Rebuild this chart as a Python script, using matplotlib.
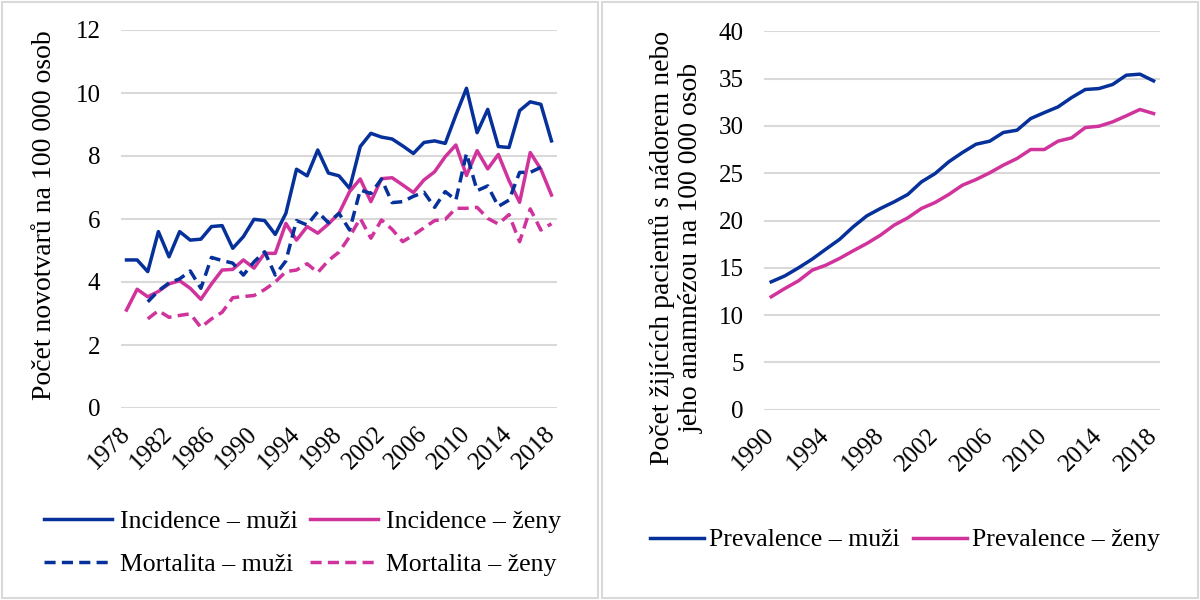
import matplotlib
matplotlib.use("Agg")
import matplotlib.pyplot as plt
from matplotlib.patches import Rectangle
import numpy as np

# left panel: incidence and mortality per 100 000
years_left = list(range(1978, 2019))
incidence_men = [4.70, 4.70, 4.33, 5.60, 4.80, 5.60, 5.33, 5.36, 5.76, 5.79,
                 5.07, 5.44, 5.99, 5.95, 5.51, 6.18, 7.58, 7.37, 8.19, 7.46,
                 7.37, 6.97, 8.30, 8.72, 8.60, 8.54, 8.32, 8.08, 8.43, 8.48,
                 8.40, 9.30, 10.15, 8.74, 9.48, 8.30, 8.27, 9.44, 9.72, 9.64,
                 8.48]
incidence_women = [3.11, 3.77, 3.53, 3.70, 3.94, 4.04, 3.80, 3.45, 3.94, 4.38,
                   4.40, 4.70, 4.44, 4.91, 4.91, 5.86, 5.33, 5.76, 5.55, 5.84,
                   6.18, 6.87, 7.27, 6.55, 7.28, 7.31, 7.08, 6.84, 7.24, 7.50,
                   7.98, 8.35, 7.38, 8.17, 7.59, 8.05, 7.22, 6.53, 8.11, 7.58,
                   6.76]
mortality_men = [None, None, 3.37, 3.72, 3.97, 4.10, 4.35, 3.80, 4.78, 4.68,
                 4.60, 4.22, 4.64, 4.96, 4.22, 4.67, 5.95, 5.81, 6.23, 5.88,
                 6.18, 5.65, 6.92, 6.81, 7.27, 6.52, 6.55, 6.72, 6.85, 6.37,
                 6.87, 6.60, 8.08, 6.90, 7.05, 6.40, 6.60, 7.48, 7.48, 7.64,
                 None]
mortality_women = [None, None, 2.83, 3.09, 2.88, 2.94, 2.99, 2.56, 2.83, 3.04,
                   3.50, 3.54, 3.57, 3.76, 4.00, 4.33, 4.38, 4.58, 4.30, 4.68,
                   4.95, 5.44, 6.02, 5.39, 5.97, 5.67, 5.28, 5.49, 5.72, 5.95,
                   5.99, 6.34, 6.34, 6.37, 6.02, 5.84, 6.14, 5.28, 6.32, 5.65,
                   5.85]

# right panel: prevalence per 100 000
years_right = list(range(1990, 2019))
prevalence_men = [13.52, 14.15, 15.0, 15.92, 16.97, 18.0, 19.33, 20.49, 21.27,
                  21.97, 22.75, 24.08, 24.96, 26.2, 27.18, 28.06, 28.38, 29.3,
                  29.54, 30.77, 31.4, 32.0, 32.99, 33.84, 33.94, 34.37, 35.35,
                  35.46, 34.75]
prevalence_women = [11.94, 12.82, 13.63, 14.75, 15.28, 15.99, 16.8, 17.57,
                    18.45, 19.51, 20.28, 21.27, 21.9, 22.75, 23.73, 24.33,
                    25.04, 25.85, 26.55, 27.5, 27.5, 28.38, 28.73, 29.82,
                    29.96, 30.42, 31.06, 31.73, 31.3]

BLUE = "#06309A"
PINK = "#D0339B"
GRID = "#D9D9D9"
LW = 2.5
DASH = (3.2, 1.8)

plt.rcParams["font.family"] = ["Liberation Serif", "DejaVu Serif"]

fig = plt.figure(figsize=(12, 6), dpi=100)

# panel frames
for x0 in (0.002, 0.502):
    fig.patches.append(Rectangle((x0, 0.004), 0.496, 0.992, transform=fig.transFigure,
                                 fill=False, edgecolor=GRID, linewidth=1.5))


def style_axes(ax, ylim, ystep, years, tick_years):
    ax.set_ylim(*ylim)
    ax.set_yticks(np.arange(ylim[0], ylim[1] + 0.1, ystep))
    ax.set_xlim(years[0] - 0.5, years[-1] + 0.5)
    ax.set_xticks(tick_years)
    ax.set_xticklabels([str(y) for y in tick_years], rotation=45, ha="right",
                       va="center", rotation_mode="anchor")
    ax.grid(axis="y", color=GRID, linewidth=1.5)
    ax.set_axisbelow(True)
    for s in ax.spines.values():
        s.set_visible(False)
    ax.tick_params(length=0, labelsize=18)
    ax.tick_params(axis="y", pad=15)
    ax.tick_params(axis="x", pad=16)


to_arr = lambda v: np.array([np.nan if x is None else x for x in v], dtype=float)

# left chart
ax1 = fig.add_axes([0.101, 0.32, 0.363, 0.63])
l1, = ax1.plot(years_left, incidence_men, color=BLUE, lw=LW, label="Incidence – muži")
l2, = ax1.plot(years_left, incidence_women, color=PINK, lw=LW, label="Incidence – ženy")
l3, = ax1.plot(years_left, to_arr(mortality_men), color=BLUE, lw=LW, dashes=DASH,
               label="Mortalita – muži")
l4, = ax1.plot(years_left, to_arr(mortality_women), color=PINK, lw=LW, dashes=DASH,
               label="Mortalita – ženy")
style_axes(ax1, (0, 12), 2, years_left, list(range(1978, 2019, 4)))
fig.text(0.037, 0.642, "Počet novotvarů na 100 000 osob", rotation=90,
         ha="center", va="center", fontsize=20)
ax1.legend(handles=[l1, l3, l2, l4], loc="center", bbox_to_anchor=(0.252, 0.095),
           bbox_transform=fig.transFigure, ncol=2, frameon=False, fontsize=18.5,
           handlelength=2.65, handletextpad=0.3, columnspacing=0.5, labelspacing=0.8)

# right chart
ax2 = fig.add_axes([0.637, 0.317, 0.33, 0.631])
ax2.plot(years_right, prevalence_men, color=BLUE, lw=LW, label="Prevalence – muži")
ax2.plot(years_right, prevalence_women, color=PINK, lw=LW, label="Prevalence – ženy")
style_axes(ax2, (0, 40), 5, years_right, list(range(1990, 2019, 4)))
fig.text(0.5635, 0.587, "Počet žijících pacientů s nádorem nebo\njeho anamnézou na 100 000 osob",
         rotation=90, ha="center", va="center", fontsize=20, multialignment="center",
         linespacing=1.2)
ax2.legend(loc="center", bbox_to_anchor=(0.754, 0.1), bbox_transform=fig.transFigure,
           ncol=2, frameon=False, fontsize=18.5, handlelength=2.1, handletextpad=0.2,
           columnspacing=0.5)

fig.savefig("out.png", dpi=100)
